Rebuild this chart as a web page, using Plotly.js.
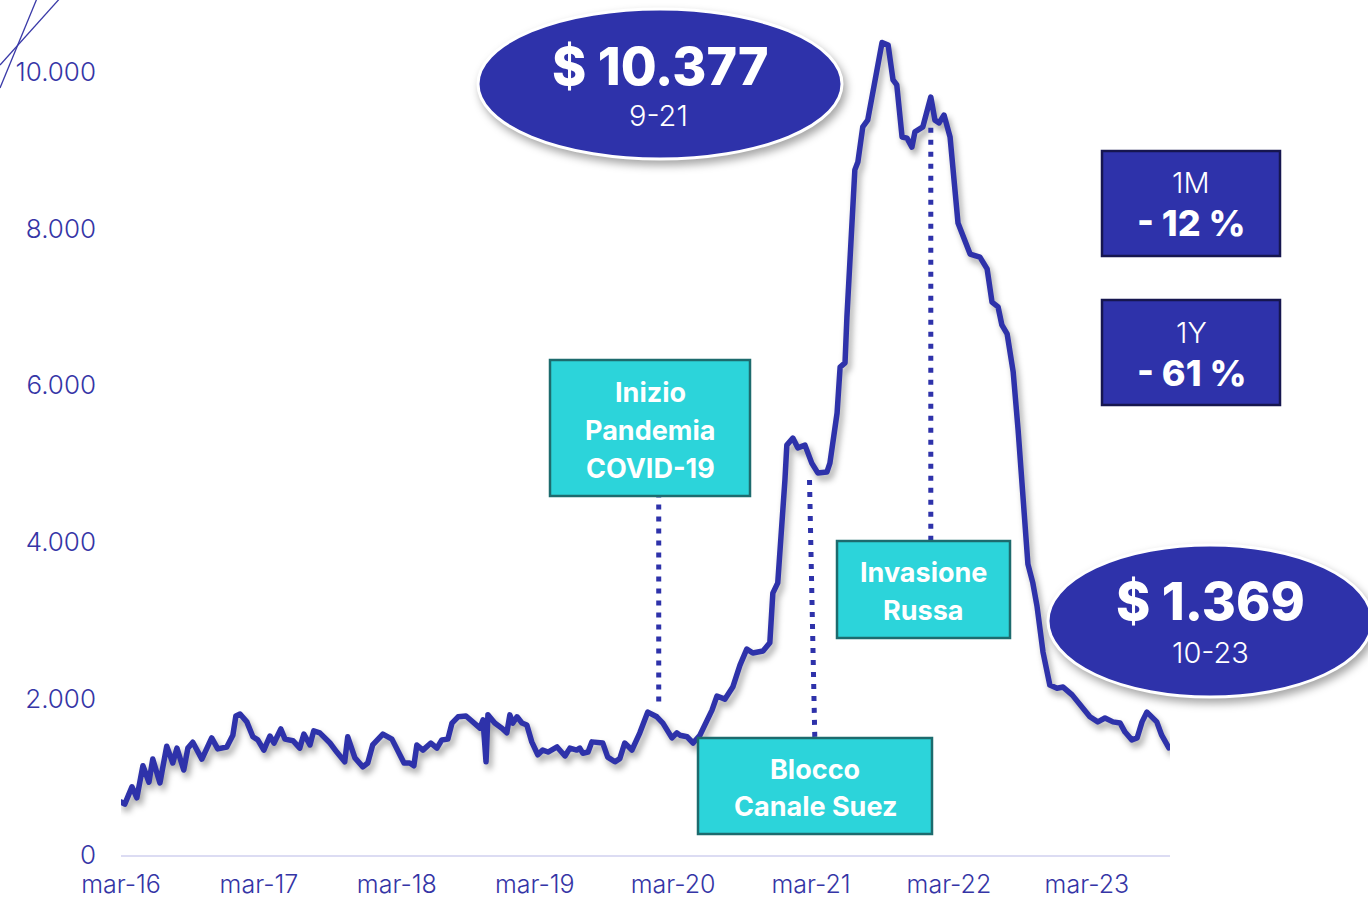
<!DOCTYPE html>
<html>
<head>
<meta charset="utf-8">
<script src="https://cdn.plot.ly/plotly-3.0.1.min.js"></script>
<style>
  html, body { margin:0; padding:0; background:#fff; }
  #chart { width:1368px; height:899px; }
  .scatterlayer path.js-line { stroke-linejoin: round; stroke-linecap: round; }
</style>
</head>
<body>
<div id="chart"></div>
<script>
// ---- data ----
const dates = [
'2016-03-01','2016-03-11','2016-03-30','2016-04-12','2016-04-28','2016-05-14','2016-05-24','2016-06-12','2016-06-30','2016-07-16','2016-07-27','2016-08-14','2016-08-25','2016-09-07','2016-10-01','2016-10-27','2016-11-12','2016-12-06','2016-12-22','2016-12-30',
'2017-01-10','2017-01-28','2017-02-13','2017-02-26','2017-03-14','2017-03-30','2017-04-10','2017-04-28','2017-05-09','2017-05-30','2017-06-17','2017-06-28','2017-07-14','2017-07-24','2017-08-09','2017-09-05','2017-09-23','2017-10-14','2017-10-22','2017-11-10','2017-12-01','2017-12-14','2017-12-27',
'2018-01-23','2018-02-16','2018-03-04','2018-03-20','2018-04-04','2018-04-15','2018-04-23','2018-05-09','2018-05-30','2018-06-15','2018-06-28','2018-07-14','2018-07-25','2018-08-10','2018-08-31','2018-09-18','2018-10-07','2018-10-15','2018-10-23','2018-10-28','2018-11-15','2018-12-04','2018-12-17','2018-12-25',
'2019-01-02','2019-01-13','2019-01-26','2019-02-08','2019-02-21','2019-03-09','2019-03-22','2019-04-05','2019-04-29','2019-05-20','2019-06-02','2019-06-20','2019-06-28','2019-07-06','2019-07-20','2019-07-30','2019-08-20','2019-08-28','2019-09-10','2019-09-29','2019-10-12','2019-10-25','2019-11-13','2019-12-04','2019-12-25',
'2020-01-18','2020-02-03','2020-02-27','2020-03-11','2020-03-19','2020-04-07','2020-04-23','2020-05-11','2020-05-27','2020-06-12','2020-06-25','2020-07-16','2020-08-06','2020-08-25','2020-09-12','2020-09-28','2020-10-25','2020-11-12','2020-11-20','2020-12-03','2020-12-22','2020-12-27',
'2021-01-12','2021-01-25','2021-02-13','2021-03-03','2021-03-19','2021-04-12','2021-04-20','2021-05-09','2021-05-17','2021-05-30','2021-06-04','2021-06-12','2021-06-25','2021-07-03','2021-07-16','2021-07-29','2021-08-17','2021-09-05','2021-09-21','2021-10-04','2021-10-14','2021-10-28','2021-11-10','2021-11-23','2021-12-01','2021-12-22',
'2022-01-12','2022-01-23','2022-02-03','2022-02-16','2022-03-04','2022-03-25','2022-04-26','2022-05-22','2022-06-10','2022-06-23','2022-07-09','2022-07-19','2022-08-02','2022-08-18','2022-08-31','2022-09-13','2022-09-26','2022-10-09','2022-10-20','2022-11-05','2022-11-23','2022-12-12','2022-12-28',
'2023-01-21','2023-02-16','2023-03-09','2023-03-30','2023-04-18','2023-05-09','2023-05-28','2023-06-10','2023-06-28','2023-07-12','2023-07-25','2023-08-07','2023-08-22','2023-09-02','2023-09-15','2023-09-29','2023-10-04'
];
const prices = [
677,650,870,730,1140,930,1225,920,1390,1175,1365,1085,1365,1440,1225,1495,1355,1380,1530,1775,
1800,1700,1510,1470,1340,1520,1430,1610,1480,1460,1365,1545,1405,1585,1560,1430,1315,1190,1510,1240,1125,1175,1405,
1545,1480,1340,1175,1175,1140,1405,1340,1430,1365,1470,1480,1685,1765,1775,1700,1620,1725,1190,1790,1685,1620,1560,1790,
1685,1765,1685,1660,1445,1280,1340,1315,1380,1265,1365,1340,1365,1300,1315,1445,1445,1430,1250,1190,1230,1430,1340,1560,1825,
1765,1685,1495,1560,1530,1510,1430,1530,1685,1850,2030,1990,2145,2425,2630,2580,2605,2710,3345,3475,4790,5235,
5325,5200,5235,5005,4880,4890,5005,5645,6230,6285,6870,7560,8750,8850,9300,9385,9900,10377,10345,9900,9835,9170,9155,9040,9235,9300,
9680,9385,9350,9450,9170,8070,7675,7635,7485,7060,7000,6770,6655,6170,5430,4455,3715,3475,3180,2590,2170,2130,2145,
2045,1890,1765,1700,1750,1700,1685,1570,1470,1495,1700,1825,1765,1700,1530,1380,1369
];
const xTickVals = ['2016-03-01','2017-03-01','2018-03-01','2019-03-01','2020-03-01','2021-03-01','2022-03-01','2023-03-01'];
const xTickText = ['mar-16','mar-17','mar-18','mar-19','mar-20','mar-21','mar-22','mar-23'];
const yTickVals = [0, 2000, 4000, 6000, 8000, 10000];
const yTickText = ['0', '2.000', '4.000', '6.000', '8.000', '10.000'];

// event markers: [date, bottom value, top value]
const eventNames = ['Inizio<br>Pandemia<br>COVID-19', 'Blocco<br>Canale Suez', 'Invasione<br>Russa'];
const eventLines = [
  {x0:'2020-01-23', y0:1960, x1:'2020-01-23', y1:4575},
  {x0:'2021-03-11', y0:1508, x1:'2021-02-25', y1:4792},
  {x0:'2022-01-12', y0:4012, x1:'2022-01-12', y1:9302}
];
const peakLabel = ['$ 10.377', '9-21'];
const lastLabel = ['$ 1.369', '10-23'];
const kpi = [['1M', '- 12 %'], ['1Y', '- 61 %']];

// ---- layout helpers (pixel -> paper) ----
const L = 121, R = 198, T = 2, B = 44, WID = 1368, HEI = 899;
const PW = WID - L - R, PH = HEI - T - B;
const px = v => (v - L) / PW;
const py = v => (HEI - B - v) / PH;

const BLUE = '#2e32aa';
const CYAN = '#2cd4da';
const FONT = 'Inter, "Open Sans", sans-serif';

const trace = {
  type: 'scatter', mode: 'lines', x: dates, y: prices,
  line: {color: BLUE, width: 5.5, shape: 'linear'},
  hoverinfo: 'skip'
};

const shapes = [];
eventLines.forEach(e => shapes.push({
  type:'line', xref:'x', yref:'y', x0:e.x0, y0:e.y0, x1:e.x1, y1:e.y1,
  line:{color: BLUE, width:5, dash:'5px,7px'}
}));
function rect(x0,y0,x1,y1,fill,border){
  shapes.push({type:'rect', xref:'paper', yref:'paper', x0:px(x0), x1:px(x1), y0:py(y1), y1:py(y0),
    fillcolor:fill, line:{color:border, width:2.5}});
}
function ell(x0,y0,x1,y1){
  shapes.push({type:'circle', xref:'paper', yref:'paper', x0:px(x0), x1:px(x1), y0:py(y1), y1:py(y0),
    fillcolor:BLUE, line:{color:'#ffffff', width:3}});
}
const ellStart = shapes.length;
ell(478, 9, 842, 159);
ell(1048, 545, 1372, 697);
rect(550, 360, 750, 496, CYAN, '#1d6b6e');
rect(698, 738, 932, 834, CYAN, '#1d6b6e');
rect(837, 541, 1010, 638, CYAN, '#1d6b6e');
rect(1102, 151, 1280, 256, BLUE, '#16164f');
rect(1102, 300, 1280, 405, BLUE, '#16164f');
// stray thin lines at top-left corner
shapes.push({type:'line', xref:'paper', yref:'paper', x0:px(0), y0:py(88), x1:px(38), y1:py(-4), line:{color:'#3a3aa8', width:1.3}});
shapes.push({type:'line', xref:'paper', yref:'paper', x0:px(0), y0:py(65), x1:px(62), y1:py(-4), line:{color:'#3a3aa8', width:1.3}});

const annotations = [];
function txt(x, y, text, size, weight, color){
  annotations.push({xref:'paper', yref:'paper', x:px(x), y:py(y), text:text, showarrow:false,
    xanchor:'center', yanchor:'middle', font:{family:FONT, size:size, color:color||'#ffffff', weight:weight}});
}
txt(660, 66, peakLabel[0], 52, 800);
txt(658, 116, peakLabel[1], 29, 300);
txt(1210, 601, lastLabel[0], 52, 800);
txt(1210, 652, lastLabel[1], 29, 300);
const ev0 = eventNames[0].split('<br>'), ev1 = eventNames[1].split('<br>'), ev2 = eventNames[2].split('<br>');
txt(650, 392, ev0[0], 27, 700); txt(650, 430, ev0[1], 27, 700); txt(650, 468, ev0[2], 27, 700);
txt(815, 769, ev1[0], 27, 700); txt(815, 806, ev1[1], 27, 700);
txt(923, 572, ev2[0], 27, 700); txt(923, 610, ev2[1], 27, 700);
txt(1191, 182, kpi[0][0], 29, 300); txt(1191, 223, kpi[0][1], 36, 800);
txt(1191, 332, kpi[1][0], 29, 300); txt(1191, 373, kpi[1][1], 36, 800);

const layout = {
  width: WID, height: HEI,
  margin: {l:L, r:R, t:T, b:B, pad:0},
  paper_bgcolor:'#ffffff', plot_bgcolor:'#ffffff',
  showlegend:false,
  font:{family:FONT, color:'#3535a6'},
  xaxis:{type:'date', range:['2016-03-01','2023-10-07'], tickvals:xTickVals, ticktext:xTickText,
    showgrid:false, zeroline:false, showline:true, linecolor:'#dcdcf3', linewidth:2, ticks:'',
    tickfont:{family:FONT, size:25, color:'#3535a6', weight:300}, ticklabelstandoff:6, fixedrange:true},
  yaxis:{range:[0,10894], tickvals:yTickVals, ticktext:yTickText, showgrid:false, zeroline:false,
    showline:false, ticks:'', tickfont:{family:FONT, size:26, color:'#3535a6', weight:300},
    ticklabelstandoff:24, fixedrange:true},
  shapes: shapes,
  annotations: annotations
};

Plotly.newPlot('chart', [trace], layout, {displayModeBar:false, staticPlot:true}).then(() => {
  document.querySelectorAll('.scatterlayer path.js-line').forEach(p => {
    p.style.filter = 'drop-shadow(3px 5px 3px rgba(0,0,0,0.35))';
  });
  document.querySelectorAll('.shapelayer path').forEach(p => {
    const i = +p.getAttribute('data-index');
    if (i === ellStart || i === ellStart + 1) {
      p.style.filter = 'drop-shadow(3px 5px 4px rgba(0,0,0,0.35))';
    }
  });
});
</script>
</body>
</html>
